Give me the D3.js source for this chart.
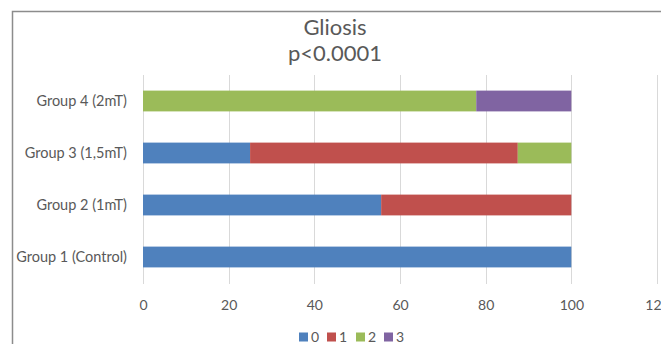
<!DOCTYPE html>
<html>
<head>
<meta charset="utf-8">
<script src="https://cdn.jsdelivr.net/npm/d3@7"></script>
<style>
  html, body { margin: 0; padding: 0; background: #fff; overflow: hidden; }
  svg { display: block; font-family: Lato, "Open Sans", sans-serif; }
</style>
</head>
<body>
<svg id="chart" width="661" height="344"></svg>
<script>
// Groups, drawn top to bottom
const groups = ["Group 4 (2mT)", "Group 3 (1,5mT)", "Group 2 (1mT)", "Group 1 (Control)"];
// Gliosis grade series (percent of animals per group)
const grades = ["0", "1", "2", "3"];
const grade0 = [0, 25, 55.6, 100];
const grade1 = [0, 62.5, 44.4, 0];
const grade2 = [77.8, 12.5, 0, 0];
const grade3 = [22.2, 0, 0, 0];
const gradeColors = ["#4f81bd", "#c0504d", "#9bbb59", "#8064a2"];
const xTicks = [0, 20, 40, 60, 80, 100, 120];

const svg = d3.select("#chart");
const textColor = "#595959";

// chart frame
svg.append("path")
  .attr("d", "M12.5,344 V11.5 H661")
  .attr("fill", "none").attr("stroke", "#8c8c8c").attr("stroke-width", 1.5);

// titles
svg.append("text").attr("x", 335).attr("y", 35).attr("text-anchor", "middle")
  .attr("font-size", 22).attr("fill", textColor).text("Gliosis");
svg.append("text").attr("x", 335).attr("y", 61).attr("text-anchor", "middle")
  .attr("font-size", 22).attr("fill", textColor).text("p<0.0001");

const x = d3.scaleLinear().domain([0, 120]).range([143, 657]);
const y = d3.scaleBand().domain(groups).range([75, 283]).paddingInner(0.6).paddingOuter(0.3);

// vertical gridlines
svg.append("g").selectAll("line").data(xTicks).join("line")
  .attr("x1", d => Math.round(x(d)) + 0.5).attr("x2", d => Math.round(x(d)) + 0.5)
  .attr("y1", 75).attr("y2", 284)
  .attr("stroke", "#d9d9d9").attr("stroke-width", 1);

// stacked bars
const rows = groups.map((g, i) => ({ group: g, "0": grade0[i], "1": grade1[i], "2": grade2[i], "3": grade3[i] }));
const stacked = d3.stack().keys(grades)(rows);
svg.append("g").selectAll("g").data(stacked).join("g")
  .attr("fill", (d, i) => gradeColors[i])
  .selectAll("rect").data(d => d).join("rect")
  .attr("x", d => x(d[0]))
  .attr("width", d => x(d[1]) - x(d[0]))
  .attr("y", d => y(d.data.group))
  .attr("height", y.bandwidth());

// category axis labels
svg.append("g").selectAll("text").data(groups).join("text")
  .attr("x", 127).attr("y", d => y(d) + y.bandwidth() / 2)
  .attr("dy", "0.35em").attr("text-anchor", "end")
  .attr("font-size", 14.5).attr("fill", textColor).text(d => d);

// value axis
const xAxis = svg.append("g").attr("transform", "translate(0,284)")
  .call(d3.axisBottom(x).tickValues(xTicks).tickSize(0).tickPadding(16));
xAxis.select(".domain").remove();
xAxis.selectAll("text").attr("font-size", 14).attr("fill", textColor)
  .attr("font-family", "Lato, 'Open Sans', sans-serif");

// legend
const legendX = [299, 327, 356, 384];
const legend = svg.append("g").selectAll("g").data(grades).join("g")
  .attr("transform", (d, i) => `translate(${legendX[i]},337)`);
legend.append("rect").attr("x", 0).attr("y", -4.5).attr("width", 9).attr("height", 9)
  .attr("fill", (d, i) => gradeColors[i]);
legend.append("text").attr("x", 12).attr("dy", "0.35em")
  .attr("font-size", 14).attr("fill", textColor).text(d => d);
</script>
</body>
</html>
